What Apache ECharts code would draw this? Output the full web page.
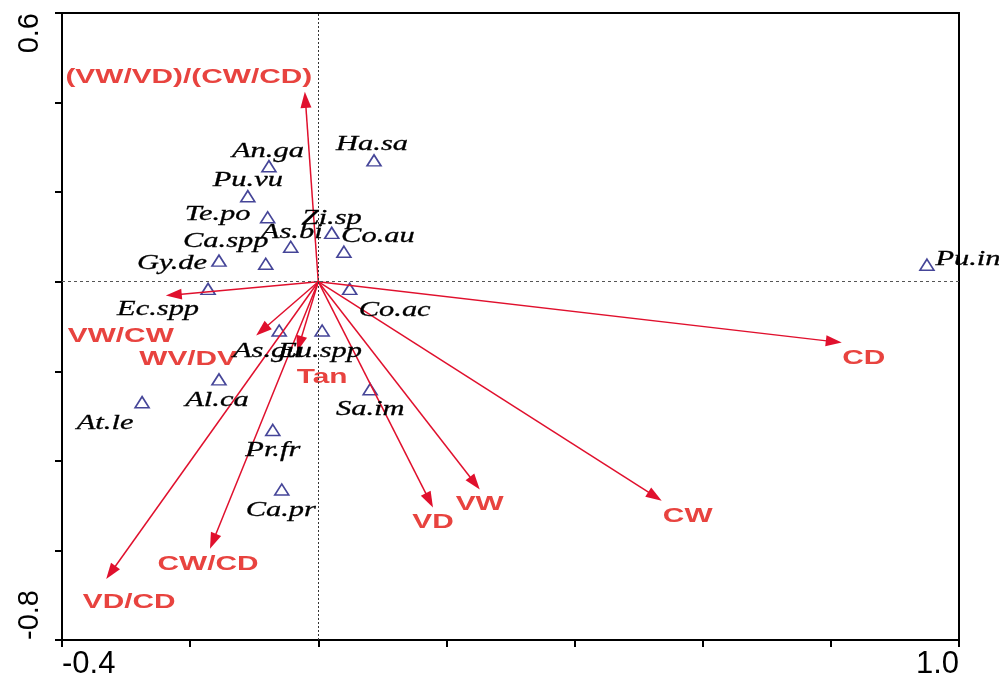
<!DOCTYPE html>
<html><head><meta charset="utf-8">
<script src="https://cdn.jsdelivr.net/npm/echarts@6/dist/echarts.min.js"></script>
<style>html,body{margin:0;padding:0;background:#fff}#c{width:999px;height:680px}</style>
</head><body><div id="c"></div>
<script>
// Species scores
const speciesNames = ['Ha.sa','An.ga','Pu.vu','Te.po','Zi.sp','As.bi','Co.au','Ca.spp','Gy.de','Pu.in','Ec.spp','Co.ac','As.gu','Eu.spp','Al.ca','At.le','Sa.im','Pr.fr','Ca.pr'];
const speciesX = [0.087,-0.077,-0.110,-0.079,0.021,-0.043,0.040,-0.082,-0.155,0.950,-0.172,0.049,-0.061,0.006,-0.155,-0.275,0.081,-0.071,-0.057];
const speciesY = [0.271,0.258,0.191,0.144,0.109,0.078,0.067,0.040,0.047,0.038,-0.016,-0.016,-0.109,-0.109,-0.218,-0.269,-0.240,-0.331,-0.464];
// Environmental (trait) vectors
const envNames = ['(VW/VD)/(CW/CD)','VW/CW','WV/DV','Tan','CW/CD','VD/CD','VD','VW','CW','CD'];
const envX = [-0.021,-0.238,-0.097,-0.033,-0.169,-0.331,0.179,0.252,0.536,0.817];
const envY = [0.424,-0.031,-0.120,-0.156,-0.596,-0.664,-0.504,-0.464,-0.489,-0.136];
// Tick labels shown
const xTickLabels = ['-0.4','1.0'];
const yTickLabels = ['-0.8','0.6'];

// label placement (pixel offsets from the mark)
const speciesLabelOffset = [[-2,-16],[-1,-15],[0,-16],[-50,-3],[0,-14],[1,-14],[34,-15],[-40,-22],[-47,3],[41,-5],[-50,21],[45,22],[-12,21],[-2,21],[-2,21],[-37,21],[0,20],[0,21],[-1,21]];
const envLabelOffset = [[-116,-15],[-45,41],[-68,24],[25,26],[-2,16],[23,23],[0,15],[0,15],[26,15],[22,16]];

const ARROW = '#e0102d', ENVTXT = '#e8433f', TRI = '#16167e';

const speciesData = speciesNames.map((n,i)=>[speciesX[i], speciesY[i], i]);
const envData = envNames.map((n,i)=>[envX[i], envY[i], i]);

function renderArrow(params, api) {
  const i = api.value(2);
  const o = api.coord([0,0]);
  const t = api.coord([api.value(0), api.value(1)]);
  const dx = t[0]-o[0], dy = t[1]-o[1];
  const len = Math.hypot(dx,dy);
  const ux = dx/len, uy = dy/len;
  const hl = 16, hw = 5.5;
  const bx = t[0]-ux*hl, by = t[1]-uy*hl;
  const off = envLabelOffset[i];
  return {type:'group', children:[
    {type:'line', shape:{x1:o[0],y1:o[1],x2:bx+ux*3,y2:by+uy*3}, style:{stroke:ARROW, lineWidth:1.5}},
    {type:'polygon', shape:{points:[[t[0],t[1]],[bx-uy*hw,by+ux*hw],[bx+uy*hw,by-ux*hw]]}, style:{fill:ARROW}},
    {type:'text', x:t[0]+off[0], y:t[1]+off[1], scaleX:1.42,
      style:{text:envNames[i], fill:ENVTXT, font:'bold 21px "Liberation Sans", Arial, sans-serif', align:'center', verticalAlign:'middle'}}
  ]};
}
function renderSpeciesLabel(params, api) {
  const i = api.value(2);
  const p = api.coord([api.value(0), api.value(1)]);
  const off = speciesLabelOffset[i];
  return {type:'text', x:p[0]+off[0], y:p[1]+off[1], scaleX:1.45,
    style:{text:speciesNames[i], fill:'#000', stroke:'#000', lineWidth:0.3, font:'italic 21px "Liberation Serif", "Times New Roman", serif', align:'center', verticalAlign:'middle'}};
}

const chart = echarts.init(document.getElementById('c'), null, {renderer:'canvas'});
const axisCommon = {
  type:'value', splitLine:{show:false},
  axisLine:{show:true, onZero:false, lineStyle:{color:'#000', width:2}},
  axisTick:{show:true, inside:false, length:7, lineStyle:{color:'#000', width:2}},
};
chart.setOption({
  animation:false,
  grid:{left:62, right:40, top:13, bottom:37, show:true, borderColor:'#000', borderWidth:2, backgroundColor:'transparent'},
  xAxis:Object.assign({}, axisCommon, {
    min:-0.4, max:1.0, interval:0.2,
    axisLabel:{show:true, margin:9, fontSize:31, color:'#000', fontFamily:'"Liberation Sans", Arial, sans-serif',
      alignMinLabel:'left', alignMaxLabel:'right',
      formatter:(v)=>{const s=(Math.round(v*10)/10).toFixed(1); return xTickLabels.includes(s)?s:'';}}
  }),
  yAxis:Object.assign({}, axisCommon, {
    min:-0.8, max:0.6, interval:0.2,
    axisLabel:{show:true, margin:18, fontSize:29, rotate:90, color:'#000', fontFamily:'"Liberation Sans", Arial, sans-serif',
      alignMinLabel:'left', alignMaxLabel:'right',
      formatter:(v)=>{const s=(Math.round(v*10)/10).toFixed(1); return yTickLabels.includes(s)?s:'';}}
  }),
  series:[
    {type:'scatter', data:speciesData, symbol:'triangle', symbolSize:[14,11],
      itemStyle:{color:'rgba(0,0,0,0)', borderColor:TRI, borderWidth:1.6}, z:3,
      markLine:{silent:true, symbol:['none','none'], label:{show:false}, animation:false,
        data:[{xAxis:0, lineStyle:{type:[2,2], color:'#333', width:1}},
              {yAxis:0, lineStyle:{type:[3,3], color:'#555', width:1}}]}},
    {type:'custom', data:envData, renderItem:renderArrow, encode:{x:0,y:1}, z:4, clip:false},
    {type:'custom', data:speciesData, renderItem:renderSpeciesLabel, encode:{x:0,y:1}, z:5, clip:false}
  ]
});
</script></body></html>
